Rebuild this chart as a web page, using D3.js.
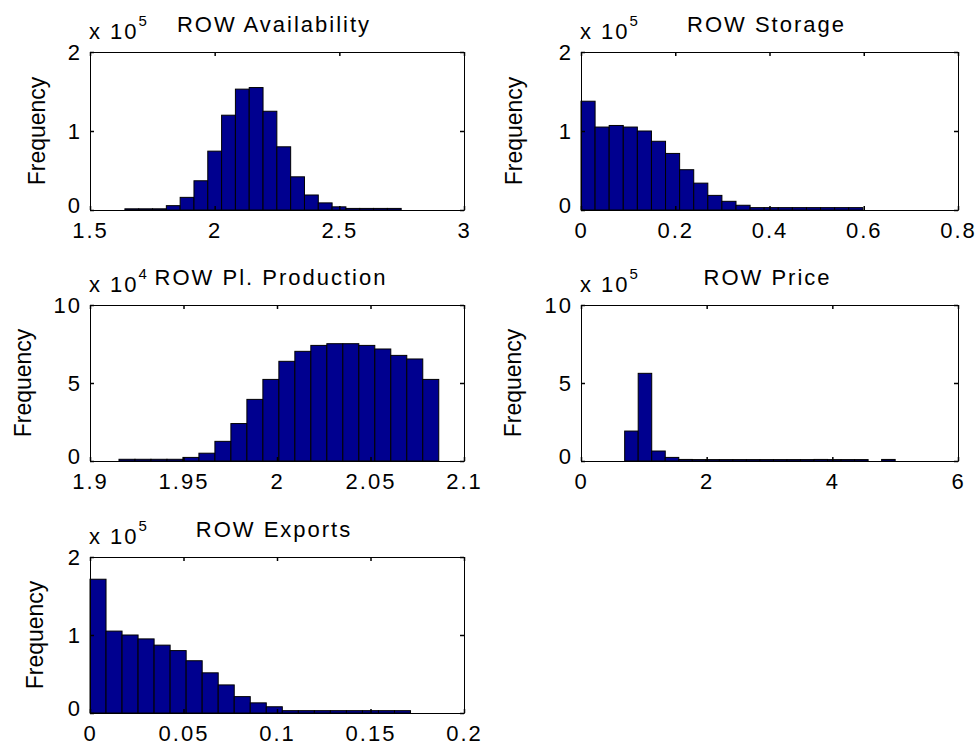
<!DOCTYPE html>
<html>
<head>
<meta charset="utf-8">
<script src="https://cdn.jsdelivr.net/npm/d3@7"></script>
<style>
  html, body { margin: 0; padding: 0; background: #fff; }
  svg { display: block; font-family: "Liberation Sans", Arial, sans-serif; }
</style>
</head>
<body>
<svg id="fig" width="978" height="754"></svg>
<script>
// ---- Histogram data (counts per bin) ----
const availabilityRange = [1.64, 2.748];
const availabilityCounts = [1500, 1500, 1500, 5500, 16000, 37000, 74500, 120000, 153000, 155000,
  125000, 80000, 42000, 19000, 9000, 4000, 2000, 2000, 2000, 2000];

const storageRange = [0, 0.598];
const storageCounts = [137700, 105000, 107000, 105000, 100000, 87000, 71600, 51000, 34000, 18500,
  11000, 6000, 3000, 3000, 3000, 3000, 3000, 3000, 3000, 3000];

const productionRange = [1.9155, 2.0865];
const productionCounts = [1100, 1100, 1100, 1100, 2300, 5000, 12600, 24000, 39500, 52300,
  63900, 70300, 74100, 75200, 75200, 74100, 71800, 67700, 65400, 52300];

const priceRange = [0.695, 5.0];
const priceCounts = [192000, 562000, 64000, 23000, 10000, 9000, 9000, 9000, 9000, 9000,
  9000, 9000, 9000, 9000, 10000, 9000, 9000, 9000, 0, 10000];

const exportsRange = [0, 0.1714];
const exportsCounts = [171500, 105000, 100000, 95000, 87000, 80000, 67000, 51500, 36000, 21000,
  13000, 8000, 3000, 3000, 3000, 3000, 3000, 3000, 3000, 3000];

// ---- Axis ticks ----
const availabilityTicks = [1.5, 2, 2.5, 3];
const storageTicks = [0, 0.2, 0.4, 0.6, 0.8];
const productionTicks = [1.9, 1.95, 2, 2.05, 2.1];
const priceTicks = [0, 2, 4, 6];
const exportsTicks = [0, 0.05, 0.1, 0.15, 0.2];

const titles = ["ROW Availability", "ROW Storage", "ROW Pl. Production", "ROW Price", "ROW Exports"];

// ---- Panel setup ----
const panels = [
  { title: titles[0], range: availabilityRange, counts: availabilityCounts, xTicks: availabilityTicks,
    xDomain: [1.5, 3], yMax: 2e5, yStep: 1e5, exp: 5, box: [90, 52, 464, 210], ylabOff: 53, titleOff: -3 },
  { title: titles[1], range: storageRange, counts: storageCounts, xTicks: storageTicks,
    xDomain: [0, 0.8], yMax: 2e5, yStep: 1e5, exp: 5, box: [581, 52, 958, 210], ylabOff: 67, titleOff: -3 },
  { title: titles[2], range: productionRange, counts: productionCounts, xTicks: productionTicks,
    xDomain: [1.9, 2.1], yMax: 10e4, yStep: 5e4, exp: 4, box: [90, 305, 464, 461], ylabOff: 67, titleOff: -6 },
  { title: titles[3], range: priceRange, counts: priceCounts, xTicks: priceTicks,
    xDomain: [0, 6], yMax: 10e5, yStep: 5e5, exp: 5, box: [581, 305, 958, 461], ylabOff: 68, titleOff: -2 },
  { title: titles[4], range: exportsRange, counts: exportsCounts, xTicks: exportsTicks,
    xDomain: [0, 0.2], yMax: 2e5, yStep: 1e5, exp: 5, box: [90, 557, 464, 713], ylabOff: 55, titleOff: -3 }
];

const svg = d3.select("#fig");
const FONT = 22;
const SPACING = 2;
const TICK = 4;
const barFill = "rgb(0,0,143)";

panels.forEach(p => {
  const [x0, y0, x1, y1] = p.box;
  const x = d3.scaleLinear().domain(p.xDomain).range([x0, x1]);
  const y = d3.scaleLinear().domain([0, p.yMax]).range([y1, y0]);
  const g = svg.append("g");

  // bins: equal-width split of the data range, as the histogram was computed
  const n = p.counts.length;
  const edges = d3.range(n + 1).map(i => p.range[0] + (p.range[1] - p.range[0]) * i / n);
  const bins = p.counts.map((c, i) => ({ lo: edges[i], hi: edges[i + 1], c }));

  g.selectAll("rect.bar").data(bins.filter(b => b.c > 0)).join("rect")
    .attr("class", "bar")
    .attr("x", d => x(d.lo))
    .attr("y", d => y(d.c))
    .attr("width", d => x(d.hi) - x(d.lo))
    .attr("height", d => y(0) - y(d.c))
    .attr("fill", barFill)
    .attr("stroke", "#000")
    .attr("stroke-width", 1);

  const yTicks = d3.range(0, p.yMax + p.yStep / 2, p.yStep);
  const fmtY = v => String(Math.round(v / Math.pow(10, p.exp) * 100) / 100);

  // axes, ticks inward on all four sides
  const axB = d3.axisBottom(x).tickValues(p.xTicks).tickSizeInner(-TICK).tickSizeOuter(0).tickFormat(d3.format("~g")).tickPadding(12);
  const axT = d3.axisTop(x).tickValues(p.xTicks).tickSizeInner(-TICK).tickSizeOuter(0).tickFormat("");
  const axL = d3.axisLeft(y).tickValues(yTicks).tickSizeInner(-TICK).tickSizeOuter(0).tickFormat(fmtY).tickPadding(8);
  const axR = d3.axisRight(y).tickValues(yTicks).tickSizeInner(-TICK).tickSizeOuter(0).tickFormat("");

  const gb = g.append("g").attr("transform", `translate(0,${y1})`).call(axB);
  const gt = g.append("g").attr("transform", `translate(0,${y0})`).call(axT);
  const gl = g.append("g").attr("transform", `translate(${x0},0)`).call(axL);
  const gr = g.append("g").attr("transform", `translate(${x1},0)`).call(axR);
  [gb, gt, gl, gr].forEach(a => {
    a.select(".domain").attr("stroke", "#000").attr("stroke-width", 1);
    a.selectAll(".tick line").attr("stroke", "#000").attr("stroke-width", 1.5);
    a.selectAll("text").attr("font-size", FONT).attr("fill", "#000")
      .attr("letter-spacing", SPACING)
      .attr("font-family", "Liberation Sans, Arial, sans-serif");
  });
  gb.selectAll("text").attr("dy", "0.71em");
  gl.selectAll("text").attr("dy", "0.32em");
  // lift the zero label slightly so it clears the x tick labels below
  gl.selectAll(".tick text").filter(d => d === 0).attr("y", -5);

  // title
  g.append("text")
    .attr("x", (x0 + x1) / 2 + p.titleOff).attr("y", y0 - 20)
    .attr("text-anchor", "middle").attr("font-size", FONT)
    .attr("letter-spacing", SPACING).text(p.title);

  // exponent multiplier
  const m = g.append("text").attr("x", x0 - 1).attr("y", y0 - 13)
    .attr("font-size", FONT).attr("letter-spacing", SPACING);
  m.append("tspan").text("x 10");
  m.append("tspan").attr("dy", -13).attr("font-size", 15).text(p.exp);

  // y label
  g.append("text")
    .attr("transform", `translate(${x0 - p.ylabOff},${(y0 + y1) / 2}) rotate(-90)`)
    .attr("text-anchor", "middle").attr("dy", "0.35em")
    .attr("font-size", 23).text("Frequency");
});
</script>
</body>
</html>
